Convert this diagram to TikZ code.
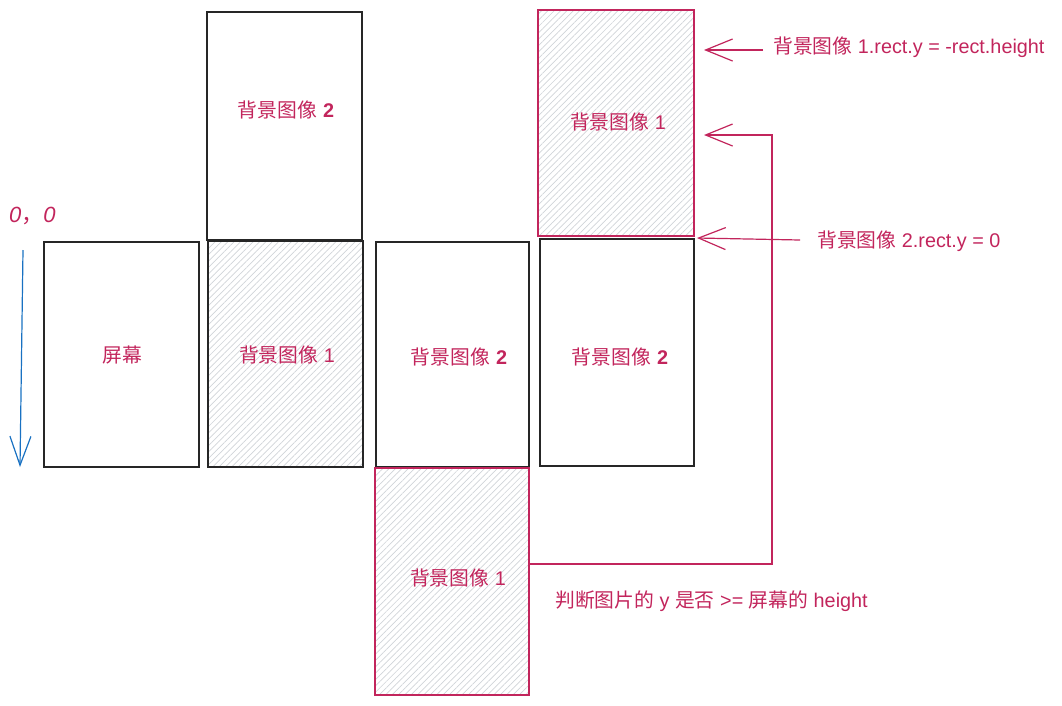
\documentclass[tikz,border=0pt]{standalone}
\usepackage{fontspec}
\setmainfont{Liberation Sans}
\newfontfamily\cjk{Noto Sans CJK SC}
\usetikzlibrary{arrows.meta,patterns.meta}
\definecolor{exred}{HTML}{C2255C}
\definecolor{exblue}{HTML}{1971C2}
\definecolor{hatch}{HTML}{D0D4D8}
\tikzset{
  box/.style={draw=black!85,line width=1.3pt,inner sep=0pt,rectangle},
  hbox/.style={box,pattern={Lines[angle=45,distance=4.5pt,line width=0.7pt]},pattern color=hatch},
  rbox/.style={hbox,draw=exred},
  lbl/.style={text=exred,font=\fontsize{19.8}{22}\selectfont,inner sep=0pt},
  note/.style={lbl,anchor=west},
  redarr/.style={draw=exred,line width=1.2pt,-{Straight Barb[length=27pt,width=22pt,line width=1.2pt]}},
  bluearr/.style={draw=exblue,line width=1.2pt,-{Straight Barb[length=29pt,width=21pt,line width=1.2pt]}}
}
\begin{document}
\begin{tikzpicture}[x=1pt,y=-1pt]
\useasboundingbox (0,0) rectangle (1062,705);
% boxes
\node[box,minimum width=155pt,minimum height=225pt] (screen) at (121.5,354.5) {};
\node[box,minimum width=155pt,minimum height=228pt] (topb) at (284.5,126) {};
\node[hbox,minimum width=155pt,minimum height=226pt] (midb) at (285.5,354) {};
\node[box,minimum width=153pt,minimum height=225pt] (c3) at (452.5,354.5) {};
\node[box,minimum width=154pt,minimum height=227pt] (c4) at (617,352.5) {};
\node[rbox,minimum width=156pt,minimum height=226pt] (tr) at (616,123) {};
\node[rbox,minimum width=154pt,minimum height=227pt] (bot) at (452,581.5) {};
% labels
\node[lbl] (l1) at (286,110) {{\cjk 背景图像}\hspace{0.3em}\textbf{2}};
\node[lbl] (l2) at (122,355) {\cjk 屏幕};
\node[lbl] (l3) at (287,355) {{\cjk 背景图像} 1};
\node[lbl] (l4) at (459,357) {{\cjk 背景图像}\hspace{0.3em}\textbf{2}};
\node[lbl] (l5) at (620,357) {{\cjk 背景图像}\hspace{0.3em}\textbf{2}};
\node[lbl] (l6) at (618,122) {{\cjk 背景图像} 1};
\node[lbl] (l7) at (458,578) {{\cjk 背景图像} 1};
\node[lbl,anchor=west,font=\fontsize{22}{24}\selectfont] (orig) at (9,216) {\itshape 0{\cjk ，}0};
% notes
\node[note] (n1) at (773,47) {{\cjk 背景图像} 1.rect.y = -rect.height};
\node[note] (n2) at (817,241) {{\cjk 背景图像} 2.rect.y = 0};
\node[note] (n3) at (555,601) {{\cjk 判断图片的} y {\cjk 是否} >= {\cjk 屏幕的} height};
% connectors
\coordinate (a1s) at (763,50);
\coordinate (a1e) at (704,50);
\draw[redarr] (a1s) -- (a1e);
\coordinate (a2s) at (800,240);
\coordinate (a2e) at (697,238);
\draw[redarr] (a2s) -- (a2e);
\coordinate (lps) at (529,564);
\coordinate (lpc) at (772,135);
\coordinate (lpe) at (704,135);
\draw[redarr] (lps) -| (lpc) -- (lpe);
\coordinate (bs) at (23,250);
\coordinate (be) at (20,467);
\draw[bluearr] (bs) -- (be);
\end{tikzpicture}
\end{document}
